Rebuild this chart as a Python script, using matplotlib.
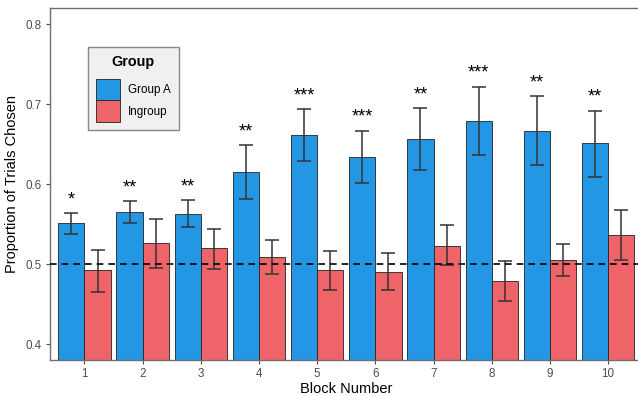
import matplotlib
matplotlib.use("Agg")
import matplotlib.pyplot as plt
from matplotlib.patches import Patch
import numpy as np

plt.rcParams['font.family'] = ['Liberation Sans', 'DejaVu Sans']

blocks = ["1", "2", "3", "4", "5", "6", "7", "8", "9", "10"]
group_a = [0.551, 0.565, 0.563, 0.615, 0.661, 0.634, 0.657, 0.679, 0.667, 0.651]
group_a_lo = [0.538, 0.551, 0.546, 0.582, 0.629, 0.601, 0.618, 0.636, 0.624, 0.609]
group_a_hi = [0.564, 0.579, 0.580, 0.649, 0.694, 0.667, 0.695, 0.722, 0.710, 0.692]
ingroup = [0.492, 0.526, 0.520, 0.509, 0.492, 0.490, 0.523, 0.479, 0.505, 0.537]
ingroup_lo = [0.465, 0.495, 0.494, 0.488, 0.468, 0.467, 0.499, 0.454, 0.485, 0.505]
ingroup_hi = [0.518, 0.557, 0.544, 0.530, 0.516, 0.514, 0.549, 0.504, 0.525, 0.568]
sig = ["*", "**", "**", "**", "***", "***", "**", "***", "**", "**"]
chance = 0.5

blue = "#2396E4"
red = "#EE6468"

W, H = 638, 396
fig = plt.figure(figsize=(W / 100, H / 100), dpi=100)
left, right, top, bottom = 49.5, 643, 8.3, 360
ax = fig.add_axes([left / W, (H - bottom) / H, (right - left) / W, (bottom - top) / H])

x = np.arange(1, len(blocks) + 1)
bw = 0.45
ax.bar(x - bw / 2, group_a, width=bw, color=blue, edgecolor="#222222", linewidth=0.6, zorder=2)
ax.bar(x + bw / 2, ingroup, width=bw, color=red, edgecolor="#222222", linewidth=0.6, zorder=2)

ga = np.array(group_a)
ig = np.array(ingroup)
ax.errorbar(x - bw / 2, ga, yerr=[ga - np.array(group_a_lo), np.array(group_a_hi) - ga],
            fmt="none", ecolor="#333333", elinewidth=1.1, capsize=4.8, capthick=1.1, zorder=3)
ax.errorbar(x + bw / 2, ig, yerr=[ig - np.array(ingroup_lo), np.array(ingroup_hi) - ig],
            fmt="none", ecolor="#333333", elinewidth=1.1, capsize=4.8, capthick=1.1, zorder=3)

for xi, hi, s in zip(x, group_a_hi, sig):
    ax.text(xi - bw / 2, hi + 0.011, s, ha="center", va="baseline", fontsize=13, color="black", zorder=4)

ax.axhline(chance, color="black", linestyle=(0, (4, 3)), linewidth=1.2, zorder=4)

ax.set_xlim(0.4, 10.6)
ax.set_ylim(0.38, 0.82)
ax.set_xticks(x)
ax.set_xticklabels(blocks)
ax.set_yticks([0.4, 0.5, 0.6, 0.7, 0.8])
ax.set_yticklabels(["0.4", "0.5", "0.6", "0.7", "0.8"])
ax.tick_params(axis="both", length=3, width=0.8, color="#4D4D4D", labelcolor="#4D4D4D",
               labelsize=8.4, pad=2.5)
for sp in ax.spines.values():
    sp.set_color("#6E6E6E")
    sp.set_linewidth(1.0)

ax.set_xlabel("Block Number", fontsize=10.5, labelpad=2)
ax.set_ylabel("Proportion of Trials Chosen", fontsize=10.5, labelpad=5)

handles = [Patch(facecolor=blue, edgecolor="#222222", linewidth=0.6),
           Patch(facecolor=red, edgecolor="#222222", linewidth=0.6)]
leg = ax.legend(handles, ["Group A", "Ingroup"], title="Group", loc="upper left",
                bbox_to_anchor=((88 - left) / (right - left), 1 - (47 - top) / (bottom - top)),
                borderaxespad=0, fontsize=8.4, title_fontsize=10.4, frameon=True, fancybox=False,
                handlelength=2.0, handleheight=2.45, labelspacing=0, handletextpad=0.7,
                borderpad=0.7)
leg.get_title().set_fontweight("bold")
leg._legend_box.sep = 7
leg.get_frame().set_facecolor("#F0F0F0")
leg.get_frame().set_edgecolor("#888888")
leg.get_frame().set_linewidth(1.0)
leg.get_frame().set_alpha(1)

fig.savefig("out.png", dpi=100)
